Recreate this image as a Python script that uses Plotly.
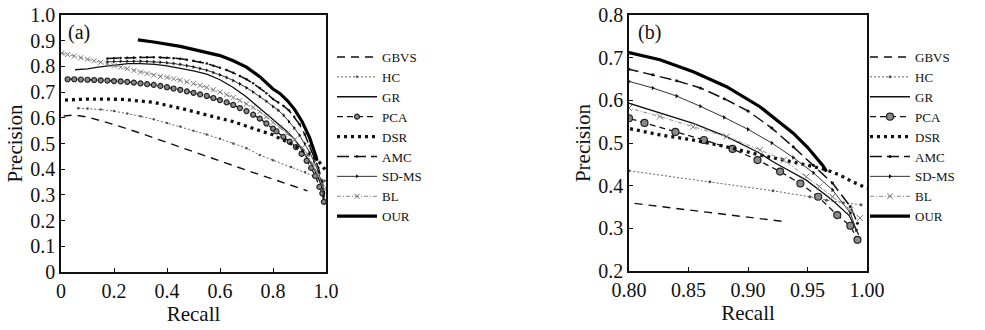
import copy
import plotly.graph_objects as go

FONT = "Liberation Serif"

methods = ["GBVS", "HC", "GR", "PCA", "DSR", "AMC", "SD-MS", "BL", "OUR"]

gbvs_x = [0.01, 0.05, 0.1, 0.15, 0.2, 0.3, 0.4, 0.5, 0.6, 0.7, 0.8, 0.93]
gbvs_y = [0.607, 0.611, 0.603, 0.59, 0.574, 0.54, 0.505, 0.468, 0.432, 0.396, 0.36, 0.316]

hc_x = [0.065, 0.1, 0.15, 0.2, 0.25, 0.3, 0.35, 0.4, 0.45, 0.5, 0.55, 0.6, 0.65, 0.7, 0.75, 0.8,
        0.868, 0.921, 0.952, 0.966, 0.98, 0.995]
hc_y = [0.637, 0.636, 0.632, 0.626, 0.617, 0.606, 0.594, 0.58, 0.566, 0.55, 0.535, 0.518, 0.5, 0.482,
        0.455, 0.435, 0.409, 0.388, 0.374, 0.366, 0.36, 0.355]

gr_x = [0.053, 0.1, 0.14, 0.2, 0.253, 0.3, 0.355, 0.4, 0.455, 0.5, 0.55, 0.6, 0.65, 0.7, 0.75, 0.8,
        0.854, 0.882, 0.893, 0.91, 0.921, 0.949, 0.971, 0.985, 0.993]
gr_y = [0.787, 0.79, 0.797, 0.806, 0.811, 0.811, 0.808, 0.802, 0.793, 0.783, 0.77, 0.748, 0.718, 0.681,
        0.637, 0.593, 0.546, 0.515, 0.5, 0.476, 0.456, 0.413, 0.366, 0.33, 0.285]

pca_x = [0.025, 0.05, 0.075, 0.1, 0.125, 0.15, 0.175, 0.2, 0.225, 0.25, 0.275, 0.3, 0.325, 0.35, 0.375,
         0.4, 0.425, 0.45, 0.475, 0.5, 0.525, 0.55, 0.575, 0.6, 0.625, 0.65, 0.675, 0.7, 0.725, 0.75,
         0.775, 0.8, 0.813, 0.839, 0.863, 0.887, 0.908, 0.927, 0.944, 0.959, 0.975, 0.986, 0.992]
pca_y = [0.75, 0.75, 0.749, 0.748, 0.747, 0.746, 0.745, 0.743, 0.742, 0.74, 0.737, 0.734, 0.731, 0.728,
         0.724, 0.719, 0.714, 0.709, 0.703, 0.697, 0.691, 0.685, 0.677, 0.669, 0.66, 0.65, 0.638, 0.626,
         0.612, 0.597, 0.578, 0.558, 0.547, 0.526, 0.507, 0.486, 0.46, 0.433, 0.405, 0.374, 0.331, 0.306,
         0.273]

dsr_x = [0.015, 0.1, 0.23, 0.35, 0.455, 0.55, 0.65, 0.75, 0.8, 0.826, 0.854, 0.882, 0.91, 0.95, 0.966,
         0.977, 0.988, 1.0]
dsr_y = [0.669, 0.673, 0.672, 0.66, 0.636, 0.61, 0.585, 0.55, 0.534, 0.519, 0.507, 0.491, 0.472, 0.448,
         0.437, 0.425, 0.409, 0.394]

amc_x = [0.175, 0.2, 0.225, 0.25, 0.275, 0.3, 0.325, 0.35, 0.375, 0.4, 0.425, 0.45, 0.475, 0.5, 0.525,
         0.55, 0.575, 0.6, 0.625, 0.65, 0.675, 0.7, 0.725, 0.75, 0.775, 0.8, 0.82, 0.84, 0.86, 0.88, 0.9,
         0.92, 0.938, 0.955, 0.971, 0.986, 0.992]
amc_y = [0.831, 0.832, 0.833, 0.834, 0.835, 0.836, 0.836, 0.836, 0.835, 0.834, 0.832, 0.83, 0.826, 0.822,
         0.817, 0.811, 0.803, 0.795, 0.786, 0.775, 0.763, 0.75, 0.734, 0.716, 0.696, 0.673, 0.66, 0.646,
         0.629, 0.604, 0.575, 0.535, 0.491, 0.448, 0.406, 0.351, 0.312]

sdms_x = [0.175, 0.2, 0.225, 0.25, 0.275, 0.3, 0.325, 0.35, 0.375, 0.4, 0.425, 0.45, 0.475, 0.5, 0.525,
          0.55, 0.575, 0.6, 0.625, 0.65, 0.675, 0.7, 0.725, 0.75, 0.775, 0.8, 0.82, 0.84, 0.86, 0.88, 0.9,
          0.92, 0.938, 0.955, 0.971, 0.986, 0.991]
sdms_y = [0.818, 0.819, 0.82, 0.82, 0.82, 0.82, 0.819, 0.818, 0.816, 0.814, 0.811, 0.808, 0.803, 0.798,
          0.792, 0.785, 0.776, 0.767, 0.757, 0.745, 0.732, 0.717, 0.7, 0.683, 0.664, 0.644, 0.629, 0.61,
          0.586, 0.56, 0.532, 0.5, 0.466, 0.43, 0.39, 0.336, 0.296]

bl_x = [0.003, 0.025, 0.05, 0.075, 0.1, 0.125, 0.15, 0.175, 0.2, 0.225, 0.25, 0.275, 0.3, 0.325, 0.35,
        0.375, 0.4, 0.425, 0.45, 0.475, 0.5, 0.525, 0.55, 0.575, 0.6, 0.625, 0.65, 0.675, 0.7, 0.725,
        0.75, 0.775, 0.8, 0.826, 0.854, 0.882, 0.91, 0.93, 0.949, 0.96, 0.971, 0.986, 0.994]
bl_y = [0.851, 0.846, 0.84, 0.834, 0.828, 0.822, 0.816, 0.81, 0.803, 0.797, 0.791, 0.784, 0.778, 0.772,
        0.766, 0.76, 0.757, 0.752, 0.746, 0.74, 0.733, 0.726, 0.718, 0.709, 0.7, 0.69, 0.679, 0.667,
        0.654, 0.64, 0.624, 0.604, 0.582, 0.562, 0.538, 0.515, 0.484, 0.46, 0.421, 0.398, 0.374, 0.343,
        0.324]

our_x = [0.29, 0.35, 0.45, 0.55, 0.6, 0.65, 0.7, 0.75, 0.8, 0.826, 0.854, 0.882, 0.91, 0.938, 0.95,
         0.963, 0.966]
our_y = [0.903, 0.895, 0.878, 0.855, 0.842, 0.822, 0.797, 0.76, 0.712, 0.695, 0.667, 0.632, 0.585, 0.523,
         0.49, 0.447, 0.433]

data = {
    "GBVS": (gbvs_x, gbvs_y),
    "HC": (hc_x, hc_y),
    "GR": (gr_x, gr_y),
    "PCA": (pca_x, pca_y),
    "DSR": (dsr_x, dsr_y),
    "AMC": (amc_x, amc_y),
    "SD-MS": (sdms_x, sdms_y),
    "BL": (bl_x, bl_y),
    "OUR": (our_x, our_y),
}

styles = {
    "GBVS": dict(mode="lines", line=dict(color="#111", width=1.4, dash="8px,6px")),
    "HC": dict(mode="lines+markers", line=dict(color="#666", width=1, dash="2px,2px"),
               marker=dict(symbol="circle", size=3, color="#555")),
    "GR": dict(mode="lines", line=dict(color="#111", width=1.3)),
    "PCA": dict(mode="lines+markers", line=dict(color="#111", width=1.3, dash="6px,4px"),
                marker=dict(symbol="circle", size=7, color="#8a8a8a", line=dict(color="#222", width=1.2))),
    "DSR": dict(mode="lines", line=dict(color="#111", width=3.3, dash="3px,4px")),
    "AMC": dict(mode="lines+markers", line=dict(color="#111", width=1.5, dash="12px,5px"),
                marker=dict(symbol="circle", size=3, color="#111")),
    "SD-MS": dict(mode="lines+markers", line=dict(color="#333", width=1),
                  marker=dict(symbol="triangle-right", size=4, color="#111")),
    "BL": dict(mode="lines+markers", line=dict(color="#888", width=1, dash="4px,2px,1px,2px"),
               marker=dict(symbol="x-thin-open", size=6, color="#777", line=dict(color="#777", width=1))),
    "OUR": dict(mode="lines", line=dict(color="#000", width=3.2)),
}
# smaller markers in the compressed panel (a)
small_marker = {"PCA": 5, "BL": 5, "SD-MS": 3.5, "AMC": 2.5, "HC": 2.5}

x_ticks_a = [0, 0.2, 0.4, 0.6, 0.8, 1.0]
x_text_a = ["0", "0.2", "0.4", "0.6", "0.8", "1.0"]
y_ticks_a = [0, 0.1, 0.2, 0.3, 0.4, 0.5, 0.6, 0.7, 0.8, 0.9, 1.0]
y_text_a = ["0", "0.1", "0.2", "0.3", "0.4", "0.5", "0.6", "0.7", "0.8", "0.9", "1.0"]
x_ticks_b = [0.80, 0.85, 0.90, 0.95, 1.00]
x_text_b = ["0.80", "0.85", "0.90", "0.95", "1.00"]
y_ticks_b = [0.2, 0.3, 0.4, 0.5, 0.6, 0.7, 0.8]
y_text_b = ["0.2", "0.3", "0.4", "0.5", "0.6", "0.7", "0.8"]

fig = go.Figure()
for panel, (xa, ya, leg) in enumerate([("x", "y", "legend"), ("x2", "y2", "legend2")]):
    for m in methods:
        xs, ys = data[m]
        st = copy.deepcopy(styles[m])
        if panel == 0 and m in small_marker:
            st["marker"]["size"] = small_marker[m]
        fig.add_trace(go.Scatter(x=xs, y=ys, name=m, xaxis=xa, yaxis=ya, legend=leg,
                                 showlegend=True, **st))

axis_common = dict(showgrid=False, zeroline=False, showline=True, linecolor="#111", linewidth=1.5,
                   mirror=True, ticks="inside", ticklen=4, tickcolor="#111", tickwidth=1.2,
                   automargin=False,
                   tickfont=dict(family=FONT, size=20, color="#111"))
title_font = dict(family=FONT, size=21, color="#111")

legend_common = dict(xanchor="left", yanchor="top", itemwidth=40,
                     font=dict(family=FONT, size=13, color="#111"), bgcolor="rgba(0,0,0,0)",
                     tracegroupgap=0, traceorder="normal")

fig.update_layout(
    width=985, height=330, margin=dict(l=0, r=0, t=0, b=0),
    paper_bgcolor="white", plot_bgcolor="white",
    xaxis=dict(domain=[61/985, 326/985], range=[0, 1], tickvals=x_ticks_a, ticktext=x_text_a,
               title=dict(text="Recall", font=title_font, standoff=4), anchor="y", **axis_common),
    yaxis=dict(domain=[1-272/330, 1-15/330], range=[0, 1], tickvals=y_ticks_a, ticktext=y_text_a,
               title=dict(text="Precision", font=title_font, standoff=2), anchor="x", **axis_common),
    xaxis2=dict(domain=[629/985, 867/985], range=[0.8, 1.0], tickvals=x_ticks_b, ticktext=x_text_b,
                title=dict(text="Recall", font=title_font, standoff=4), anchor="y2", **axis_common),
    yaxis2=dict(domain=[1-271/330, 1-15/330], range=[0.2, 0.8], tickvals=y_ticks_b, ticktext=y_text_b,
                title=dict(text="Precision", font=title_font, standoff=2), anchor="x2", **axis_common),
    legend=dict(x=332/985, y=1-42/330, **legend_common),
    legend2=dict(x=865/985, y=1-42/330, **legend_common),
    annotations=[
        dict(text="(a)", xref="x domain", yref="y domain", x=0.02, y=0.985, xanchor="left",
             yanchor="top", showarrow=False, font=dict(family=FONT, size=20, color="#111")),
        dict(text="(b)", xref="x2 domain", yref="y2 domain", x=0.03, y=0.985, xanchor="left",
             yanchor="top", showarrow=False, font=dict(family=FONT, size=20, color="#111")),
    ],
)

fig.write_html("out.html", config={"displayModeBar": False},
               post_script="document.body.style.margin='0';document.body.style.overflow='hidden';"
                           "document.documentElement.style.overflow='hidden';")
